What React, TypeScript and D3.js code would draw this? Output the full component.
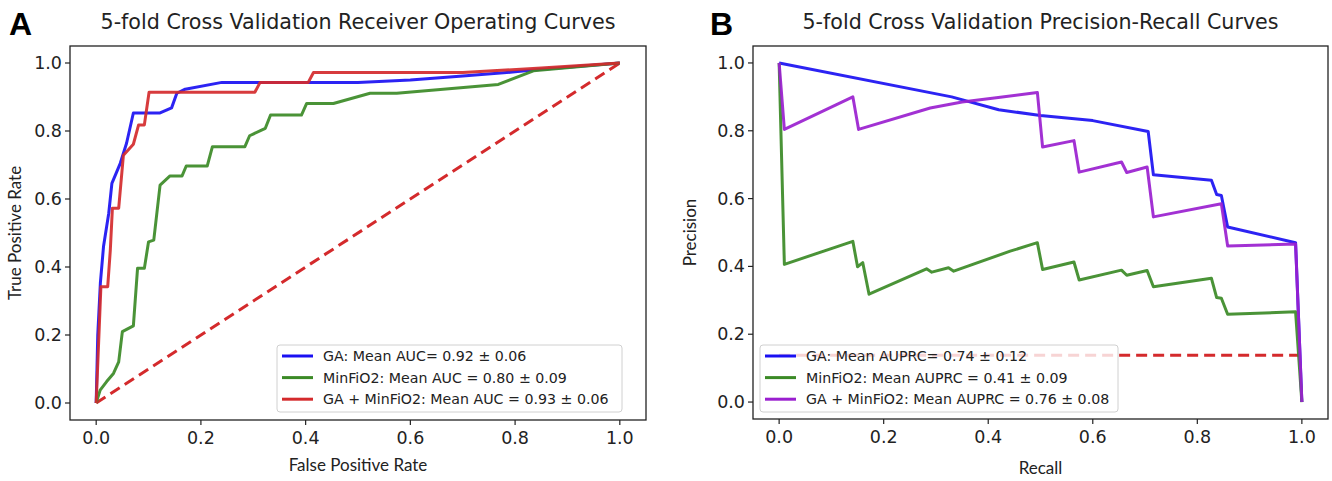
import React from 'react'
import * as d3 from 'd3'

// ROC curves (false positive rate, true positive rate)
const gaRocX = [0, 0.003, 0.008, 0.014, 0.024, 0.03, 0.046, 0.058, 0.071, 0.122, 0.144, 0.154, 0.17, 0.24, 0.5, 0.6, 0.7, 0.8, 0.84, 1]
const gaRocY = [0, 0.2, 0.353, 0.46, 0.558, 0.646, 0.705, 0.764, 0.853, 0.853, 0.868, 0.911, 0.923, 0.943, 0.943, 0.95, 0.962, 0.974, 0.98, 1]
const minRocX = [0, 0.0076, 0.02, 0.033, 0.043, 0.05, 0.071, 0.079, 0.092, 0.1, 0.11, 0.122, 0.141, 0.164, 0.172, 0.212, 0.222, 0.284, 0.293, 0.323, 0.333, 0.392, 0.402, 0.453, 0.523, 0.574, 0.768, 0.835, 1]
const minRocY = [0, 0.038, 0.063, 0.087, 0.121, 0.21, 0.227, 0.396, 0.396, 0.474, 0.479, 0.641, 0.668, 0.668, 0.697, 0.697, 0.754, 0.754, 0.786, 0.808, 0.847, 0.847, 0.881, 0.881, 0.911, 0.911, 0.937, 0.977, 1]
const bothRocX = [0, 0.009, 0.022, 0.027, 0.031, 0.043, 0.052, 0.071, 0.081, 0.092, 0.101, 0.303, 0.313, 0.405, 0.415, 0.7, 0.85, 1]
const bothRocY = [0, 0.342, 0.342, 0.45, 0.573, 0.573, 0.729, 0.761, 0.818, 0.818, 0.914, 0.914, 0.943, 0.943, 0.972, 0.972, 0.985, 1]

// Precision-recall curves (recall, precision)
const gaPrX = [0, 0.33, 0.42, 0.5, 0.6, 0.706, 0.716, 0.827, 0.837, 0.846, 0.858, 0.988, 1]
const gaPrY = [1, 0.9, 0.862, 0.845, 0.83, 0.798, 0.67, 0.654, 0.612, 0.609, 0.516, 0.47, 0]
const minPrX = [0, 0.01, 0.141, 0.15, 0.16, 0.172, 0.282, 0.292, 0.324, 0.334, 0.442, 0.494, 0.504, 0.564, 0.574, 0.655, 0.665, 0.704, 0.716, 0.827, 0.837, 0.846, 0.858, 0.988, 1]
const minPrY = [1, 0.406, 0.474, 0.399, 0.411, 0.318, 0.393, 0.383, 0.396, 0.386, 0.445, 0.47, 0.391, 0.413, 0.36, 0.389, 0.374, 0.388, 0.34, 0.365, 0.308, 0.306, 0.259, 0.266, 0]
const bothPrX = [0, 0.01, 0.141, 0.152, 0.289, 0.35, 0.423, 0.494, 0.504, 0.564, 0.574, 0.655, 0.665, 0.704, 0.716, 0.846, 0.858, 0.988, 1]
const bothPrY = [1, 0.804, 0.9, 0.804, 0.867, 0.885, 0.899, 0.913, 0.752, 0.771, 0.678, 0.708, 0.677, 0.693, 0.546, 0.585, 0.46, 0.466, 0]
const prBaseline = 0.138

const ticks = [0, 0.2, 0.4, 0.6, 0.8, 1.0]
const rocLegend = ['GA: Mean AUC= 0.92 ± 0.06', 'MinFiO2: Mean AUC = 0.80 ± 0.09', 'GA + MinFiO2: Mean AUC = 0.93 ± 0.06']
const prLegend = ['GA: Mean AUPRC= 0.74 ± 0.12', 'MinFiO2: Mean AUPRC = 0.41 ± 0.09', 'GA + MinFiO2: Mean AUPRC = 0.76 ± 0.08']

const BLUE = '#1a10f2'
const GREEN = '#3b8a26'
const RED = '#d42a2c'
const PURPLE = '#9a1fcf'

const TICK_FONT = 'DejaVu Sans, sans-serif'
const LABEL_FONT = 'Lato, Open Sans, sans-serif'

const zip = (xs, ys) => xs.map((x, i) => [x, ys[i]])

function Panel({ left, right, top, bottom, letter, title, titleWidth, xLabel, xLabelY, yLabel, yLabelX, series, dashed, legend, legendBox }) {
  const x = d3.scaleLinear().domain([-0.05, 1.05]).range([left, right])
  const y = d3.scaleLinear().domain([-0.05, 1.05]).range([bottom, top])
  const line = d3.line().x(d => x(d[0])).y(d => y(d[1]))
  const cx = (left + right) / 2
  const cy = (top + bottom) / 2
  const rowH = 21.6
  return (
    <g>
      <text x={letter.x} y={35} fontFamily="Liberation Sans, Arial, sans-serif" fontWeight="bold" fontSize={32}>{letter.text}</text>
      <text x={cx} y={29} textAnchor="middle" fontFamily={TICK_FONT} fontSize={21} textLength={titleWidth} lengthAdjust="spacingAndGlyphs" fill="#222">{title}</text>
      {dashed && <path d={line(dashed)} fill="none" stroke={RED} strokeWidth={3} strokeDasharray="11,6" />}
      {series.map((s, i) => (
        <path key={i} d={line(s.points)} fill="none" stroke={s.color} strokeWidth={3} strokeOpacity={0.92} strokeLinejoin="round" />
      ))}
      <rect x={left} y={top} width={right - left} height={bottom - top} fill="none" stroke="#222" strokeWidth={1.3} />
      {ticks.map(t => (
        <g key={'x' + t}>
          <line x1={x(t)} x2={x(t)} y1={bottom} y2={bottom + 5} stroke="#222" strokeWidth={1.2} />
          <text x={x(t)} y={bottom + 24} textAnchor="middle" fontFamily={TICK_FONT} fontSize={17.5} fill="#222">{t.toFixed(1)}</text>
        </g>
      ))}
      {ticks.map(t => (
        <g key={'y' + t}>
          <line x1={left - 5} x2={left} y1={y(t)} y2={y(t)} stroke="#222" strokeWidth={1.2} />
          <text x={left - 8} y={y(t) + 6} textAnchor="end" fontFamily={TICK_FONT} fontSize={17.5} fill="#222">{t.toFixed(1)}</text>
        </g>
      ))}
      <text x={cx} y={xLabelY} textAnchor="middle" fontFamily={LABEL_FONT} fontSize={17} fill="#222">{xLabel}</text>
      <text transform={`translate(${yLabelX},${cy}) rotate(-90)`} textAnchor="middle" fontFamily={LABEL_FONT} fontSize={17} fill="#222">{yLabel}</text>
      <rect x={legendBox.x} y={legendBox.y} width={legendBox.w} height={legendBox.h} rx={3} fill="#fff" fillOpacity={0.8} stroke="#d0d0d0" strokeWidth={1} />
      {legend.map((label, i) => {
        const ry = legendBox.y + 11 + i * rowH
        return (
          <g key={label}>
            <line x1={legendBox.x + 5} x2={legendBox.x + 36} y1={ry} y2={ry} stroke={series[i].color} strokeWidth={3} />
            <text x={legendBox.x + 46} y={ry + 5} fontFamily={TICK_FONT} fontSize={14.2} fill="#222">{label}</text>
          </g>
        )
      })}
    </g>
  )
}

export default function App() {
  return (
    <svg width={1332} height={481} style={{ position: 'absolute', left: 0, top: 0, background: '#fff' }}>
      <Panel
        left={70} right={646} top={46} bottom={420}
        letter={{ x: 9, text: 'A' }}
        title="5-fold Cross Validation Receiver Operating Curves"
        titleWidth={515}
        xLabel="False Positive Rate" xLabelY={471}
        yLabel="True Positive Rate" yLabelX={21}
        dashed={[[0, 0], [1, 1]]}
        series={[
          { points: zip(gaRocX, gaRocY), color: BLUE },
          { points: zip(minRocX, minRocY), color: GREEN },
          { points: zip(bothRocX, bothRocY), color: RED }
        ]}
        legend={rocLegend}
        legendBox={{ x: 277, y: 345, w: 345, h: 67 }}
      />
      <Panel
        left={753} right={1328} top={46} bottom={419}
        letter={{ x: 710, text: 'B' }}
        title="5-fold Cross Validation Precision-Recall Curves"
        titleWidth={476}
        xLabel="Recall" xLabelY={474}
        yLabel="Precision" yLabelX={696}
        dashed={[[0, prBaseline], [1, prBaseline]]}
        series={[
          { points: zip(gaPrX, gaPrY), color: BLUE },
          { points: zip(minPrX, minPrY), color: GREEN },
          { points: zip(bothPrX, bothPrY), color: PURPLE }
        ]}
        legend={prLegend}
        legendBox={{ x: 760, y: 345, w: 358, h: 67 }}
      />
    </svg>
  )
}
